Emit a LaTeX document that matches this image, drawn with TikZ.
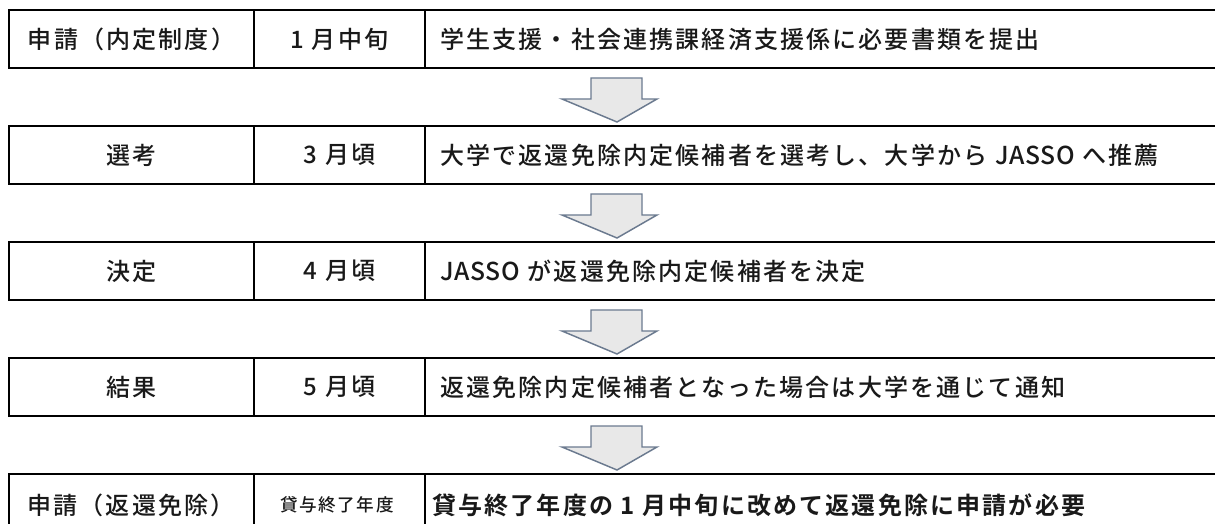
\documentclass[tikz,border=0pt]{standalone}
\usepackage{fontspec}
\newfontfamily\jp{Noto Sans CJK JP Medium}[LetterSpace=9,BoldFont={Noto Sans CJK JP Bold}]
\newfontfamily\jplat{Noto Sans CJK JP Medium}[LetterSpace=3]
\newcommand{\lat}[1]{{\jplat\fontsize{18.5pt}{20pt}\selectfont #1}}
\definecolor{arrowfill}{HTML}{E8E8E8}
\definecolor{arrowline}{HTML}{6B7A8F}
\begin{document}
\begin{tikzpicture}[x=0.75pt,y=-0.75pt,
  cell/.style={draw=black,line width=1.5pt,minimum height=43.5pt,inner sep=0pt,outer sep=0pt,anchor=north west},
  c1/.style={cell,minimum width=183.75pt},
  c2/.style={cell,minimum width=128.25pt},
  c3/.style={cell,minimum width=593.25pt},
  txt/.style={inner sep=0pt,text=black!90,font=\jp\fontsize{18pt}{20pt}\selectfont},
  ltxt/.style={txt,anchor=west},
  small/.style={inner sep=0pt,text=black!90,font=\jp\fontsize{13.2pt}{15pt}\selectfont},
  downarrow/.style={draw=arrowline,fill=arrowfill,line width=1.1pt,line join=miter}]
\useasboundingbox (0,0) rectangle (1215,524);
% row cells
\foreach \i/\y in {1/10,2/126,3/242,4/358,5/474}{
  \node[c1] (r\i a) at (9,\y) {};
  \node[c2] (r\i b) at (254,\y) {};
  \node[c3] (r\i c) at (425,\y) {};
}
% texts
\node[txt] (t1a) at (r1a.center) {申請（内定制度）};
\node[txt] (t1b) at (r1b.center) {1 月中旬};
\node[ltxt] (t1c) at (440,39) {学生支援・社会連携課経済支援係に必要書類を提出};
\node[txt] (t2a) at (r2a.center) {選考};
\node[txt] (t2b) at (r2b.center) {3 月頃};
\node[ltxt] (t2c) at (440,155) {大学で返還免除内定候補者を選考し、大学から \lat{JASSO} へ推薦};
\node[txt] (t3a) at (r3a.center) {決定};
\node[txt] (t3b) at (r3b.center) {4 月頃};
\node[ltxt] (t3c) at (440,271) {\lat{JASSO} が返還免除内定候補者を決定};
\node[txt] (t4a) at (r4a.center) {結果};
\node[txt] (t4b) at (r4b.center) {5 月頃};
\node[ltxt] (t4c) at (440,387) {返還免除内定候補者となった場合は大学を通じて通知};
\node[txt] (t5a) at (131,505) {申請（返還免除）};
\node[small] (t5b) at (337,505) {貸与終了年度};
\node[ltxt,font=\jp\bfseries\fontsize{18pt}{20pt}\selectfont] (t5c) at (432,505) {貸与終了年度の 1 月中旬に改めて返還免除に申請が必要};
% arrows
\foreach \t in {78,194,310,426}{
  \draw[downarrow] (591,\t) -- (642,\t) -- (642,\t+21) -- (657,\t+21) -- (617,\t+44) -- (562,\t+21) -- (591,\t+21) -- cycle;
}
\end{tikzpicture}
\end{document}
